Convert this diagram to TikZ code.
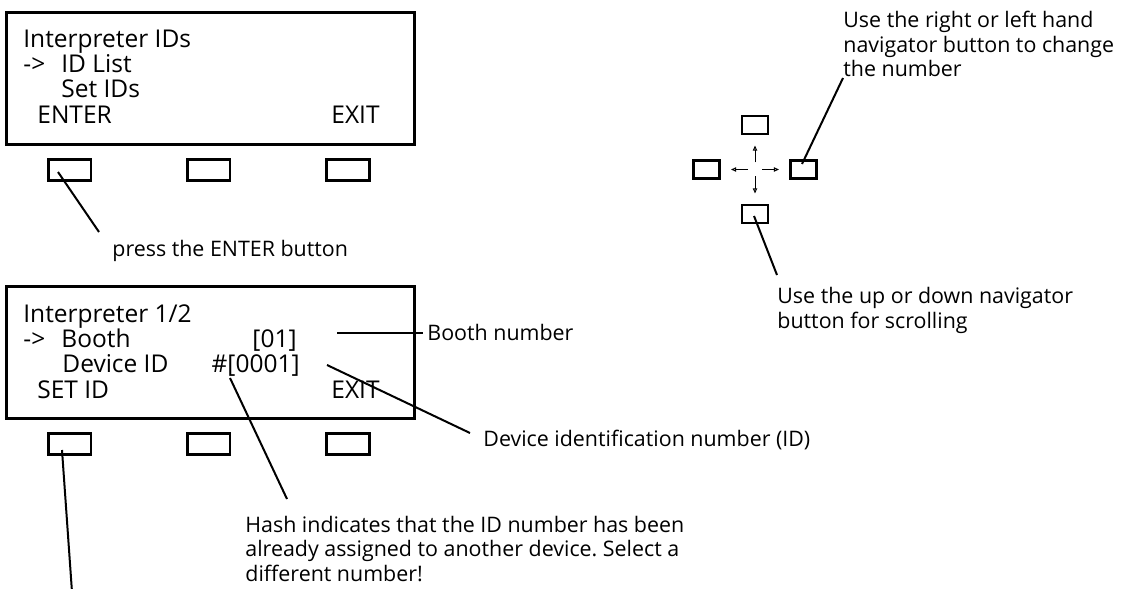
\documentclass[tikz,border=0pt]{standalone}
\usepackage{fontspec}
\setmainfont{Open Sans}
\usetikzlibrary{arrows.meta, positioning, calc}
\frenchspacing

\newcommand\lcdfont{\fontsize{12.25pt}{14pt}\selectfont}
\newcommand\annfont{\fontsize{10.7pt}{12.25pt}\selectfont}

\begin{document}
\begin{tikzpicture}[
    x=0.5pt, y=-0.5pt,
    screen/.style={rectangle, draw, line width=1.65pt, minimum width=203.9pt, minimum height=65.85pt, inner sep=0pt},
    key/.style={rectangle, draw, line width=1.3pt, minimum width=21.3pt, minimum height=10.7pt, inner sep=0pt},
    navkey/.style={rectangle, draw, line width=1.2pt, minimum width=13pt, minimum height=9pt, inner sep=0pt},
    lcd/.style={font=\lcdfont, inner sep=0pt, anchor=base west},
    note/.style={font=\annfont, inner sep=0pt, anchor=base west, align=left},
    leader/.style={draw, line width=1pt},
    navarrow/.style={draw, line width=0.5pt, -{Triangle[open, length=2.6pt, width=2.2pt]}}
]
\useasboundingbox (0,0) rectangle (1122,588);

% upper display
\node [screen] (lcd1) at (210.5,78.5) {};
\node [lcd] (menu) at (23,48) {Interpreter IDs};
\node [lcd] (cur1) at (23,73) {->};
\node [lcd] (idlist) at (61,73) {ID List};
\node [lcd] (setids) at (61,98) {Set IDs};
\node [lcd] (enter) at (37,124) {ENTER};
\node [lcd, anchor=base east] (exit1) at (380,124) {EXIT};
\foreach \i/\x in {a/69.5, b/208.5, c/348}
    \node [key] (k1\i) at (\x,170) {};

% lower display
\node [screen] (lcd2) at (210.5,352.5) {};
\node [lcd] (interp) at (23,322) {Interpreter 1/2};
\node [lcd] (cur2) at (23,347) {->};
\node [lcd] (booth) at (61,347) {Booth};
\node [lcd, anchor=base east] (boothval) at (297,347) {[01]};
\node [lcd] (devid) at (62,372) {Device ID};
\node [lcd, anchor=base east] (devval) at (300,372) {\#[0001]};
\node [lcd] (setid) at (37,398) {SET ID};
\node [lcd, anchor=base east] (exit2) at (380,398) {EXIT};
\foreach \i/\x in {a/69.5, b/208.5, c/348}
    \node [key] (k2\i) at (\x,444) {};

% navigator
\node [navkey] (nu) at (755,125) {};
\node [navkey] (nl) at (706.5,169.5) {};
\node [navkey] (nr) at (803.5,169.5) {};
\node [navkey] (nd) at (755,214) {};
\coordinate (nc) at (755,169.5);
\foreach \dx/\dy in {0/-1, 0/1, -1/0, 1/0}
    \path [navarrow] ($(nc)+(7*\dx,7*\dy)$) -- ($(nc)+(24*\dx,24*\dy)$);

% notes (multi-line ones sit on their last line)
\node [note] (press) at (112,256) {press the ENTER button};
\node [note] (boothnote) at (427,340) {Booth number};
\node [note] (devnote) at (483,446) {Device identification number (ID)};
\node [note] (hashnote) at (245,581) {Hash indicates that the ID number has been\\already assigned to another device. Select a\\different number!};
\node [note] (lrnote) at (843,77) {Use the right or left hand\\navigator button to change\\the number};
\node [note] (udnote) at (777,328) {Use the up or down navigator\\button for scrolling};
\coordinate (edge) at (72,592);

% leaders
\path [leader] ($(k1a)+(-11.5,2)$) -- ($(press.base west)+(-13,-24)$);
\path [leader] ($(boothval.base east)+(40,-14)$) -- ($(boothnote.base west)+(-4,-7)$);
\path [leader] ($(devval.base east)+(27,-7)$) -- ($(devnote.base west)+(-13,-13)$);
\path [leader] ($(devval.base east)+(-70,6)$) -- ($(hashnote.base west)+(42,-82)$);
\path [leader] ($(k2a)+(-7.5,6)$) -- (edge);
\path [leader] ($(nr)+(-1.5,-5.5)$) -- ($(lrnote.base west)+(0,1)$);
\path [leader] ($(nd)+(-1,2)$) -- ($(udnote.base west)+(0,-53)$);

\end{tikzpicture}
\end{document}
